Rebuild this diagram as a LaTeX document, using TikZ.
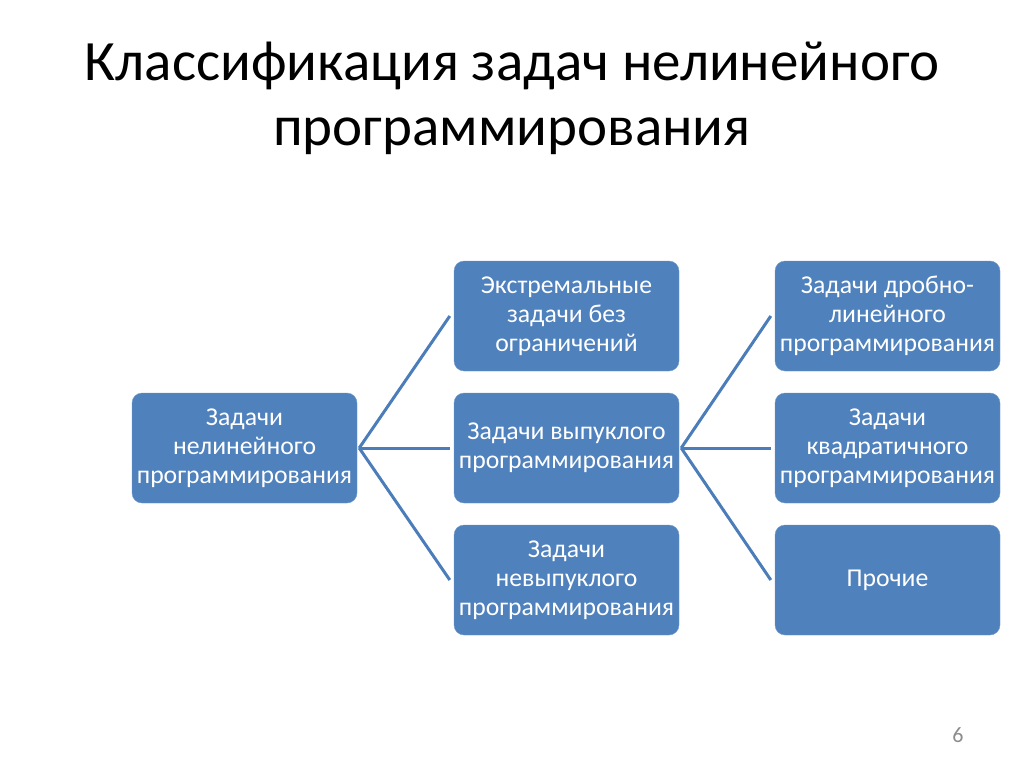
\documentclass[tikz,border=0pt]{standalone}
\usepackage{fontspec}
\setmainfont{Carlito}
\definecolor{boxblue}{HTML}{4F81BD}
\definecolor{lineblue}{HTML}{4A7DBA}
\begin{document}
\begin{tikzpicture}[x=1pt,y=-1pt,
    task/.style={fill=boxblue,draw=boxblue!80!white,rounded corners=10pt,
      minimum width=225pt,minimum height=110pt,text=white,align=center,
      font=\fontsize{25.7}{29}\selectfont,inner sep=2pt},
    link/.style={draw=lineblue,line width=3pt}]
          \useasboundingbox (0,0) rectangle (1024,767);

          % title
          \node (title) at (512,98) [align=center,font=\fontsize{57}{65}\selectfont]
            {Классификация задач нелинейного\\программирования};

          % root
          \node[task] (root) at (244.5,448) {Задачи\\нелинейного\\программирования};

          % middle column
          \node[task] (extr) at (566.5,316) {Экстремальные\\задачи без\\ограничений};
          \node[task] (conv) at (566.5,448) {Задачи выпуклого\\программирования};
          \node[task] (nonconv) at (566.5,580) {Задачи\\невыпуклого\\программирования};

          % right column
          \node[task] (frac) at (887.5,316) {Задачи дробно-\\линейного\\программирования};
          \node[task] (quad) at (887.5,448) {Задачи\\квадратичного\\программирования};
          \node[task] (other) at (887.5,580) {Прочие};

          \draw[link] ([xshift=2pt]root.east) -- ([xshift=-4pt]extr.west);
          \draw[link] ([xshift=2pt]root.east) -- ([xshift=-4pt]conv.west);
          \draw[link] ([xshift=2pt]root.east) -- ([xshift=-4pt]nonconv.west);

          \draw[link] ([xshift=2pt]conv.east) -- ([xshift=-4pt]frac.west);
          \draw[link] ([xshift=2pt]conv.east) -- ([xshift=-4pt]quad.west);
          \draw[link] ([xshift=2pt]conv.east) -- ([xshift=-4pt]other.west);

          \node[text=black!45,font=\fontsize{22}{24}\selectfont] (page) at (958,735) {6};
        \end{tikzpicture}
\end{document}
